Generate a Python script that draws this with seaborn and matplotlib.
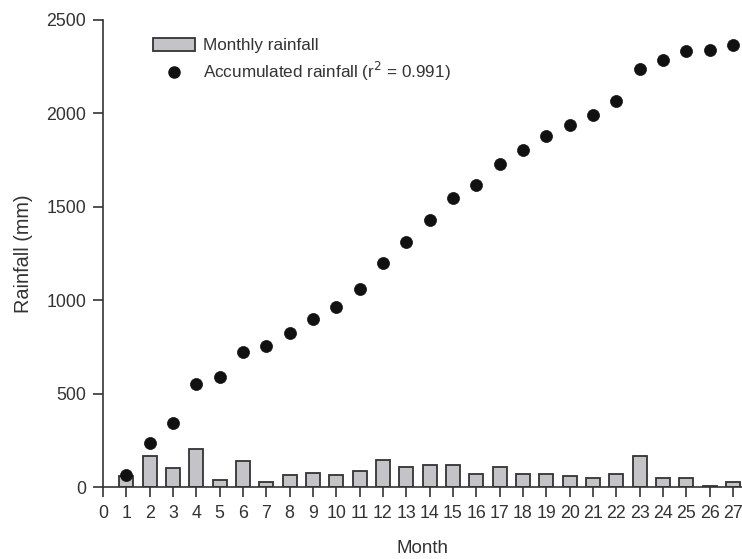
import numpy as np
import pandas as pd
import matplotlib
matplotlib.use("Agg")
import matplotlib.pyplot as plt
import seaborn as sns
from matplotlib.patches import Patch
from matplotlib.lines import Line2D

months = list(range(1, 28))
monthly_rainfall = [57, 168, 102, 205, 37, 139, 28, 64, 73, 64, 87, 146, 109,
                    116, 116, 71, 109, 71, 71, 57, 48, 71, 168, 48, 48, 5, 28]
accumulated_rainfall = [64, 237, 343, 550, 587, 723, 756, 826, 899, 965, 1058,
                        1201, 1313, 1429, 1545, 1617, 1727, 1804, 1879, 1939,
                        1991, 2066, 2236, 2284, 2336, 2339, 2368]
x_ticks = list(range(0, 28))
y_ticks = [0, 500, 1000, 1500, 2000, 2500]

df = pd.DataFrame({"Month": months, "Monthly": monthly_rainfall,
                   "Accumulated": accumulated_rainfall})

sns.set_theme(style="ticks")
plt.rcParams['font.family'] = ['Liberation Sans', 'DejaVu Sans']
txt = "#333333"

fig = plt.figure(figsize=(7.42, 5.59), dpi=100)
ax = fig.add_axes([103/742, 72/559, 639/742, 467/559])

sns.barplot(data=df, x="Month", y="Monthly", native_scale=True, width=0.6,
            color="#c4c4c8", edgecolor="#333333", linewidth=1.3,
            saturation=1, ax=ax, zorder=2)
sns.scatterplot(data=df, x="Month", y="Accumulated", color="#111111",
                s=75, marker="o", edgecolor="#111111", linewidth=0.5,
                ax=ax, zorder=3)

ax.set_xlim(0, 27.39)
ax.set_ylim(0, 2500)
ax.set_xticks(x_ticks)
ax.set_xticklabels([str(t) for t in x_ticks])
ax.set_yticks(y_ticks)
ax.set_yticklabels([str(t) for t in y_ticks])
ax.tick_params(axis='both', direction='out', length=7, width=1.2,
               colors="#333333", labelcolor=txt, labelsize=12.8)
ax.tick_params(axis='y', pad=5)
ax.tick_params(axis='x', pad=6)
ax.set_xlabel("Month", fontsize=13.5, color=txt, labelpad=13)
ax.set_ylabel("Rainfall (mm)", fontsize=14.3, color=txt, labelpad=10)
for s in ["top", "right"]:
    ax.spines[s].set_visible(False)
for s in ["left", "bottom"]:
    ax.spines[s].set_color("#333333")
    ax.spines[s].set_linewidth(1.2)

handles = [Patch(facecolor="#c4c4c8", edgecolor="#333333", linewidth=1.3),
           Line2D([], [], marker="o", linestyle="", color="#111111",
                  markersize=8.0)]
labels = ["Monthly rainfall", r"Accumulated rainfall (r$^2$ = 0.991)"]
leg = ax.legend(handles, labels, loc="upper left", frameon=False,
                bbox_to_anchor=(50/639, 1 - 18/467), fontsize=12.3,
                handlelength=2.45, handleheight=0.75, handletextpad=0.45,
                labelspacing=0.4, borderaxespad=0, borderpad=0)
for t in leg.get_texts():
    t.set_color(txt)

fig.savefig("out.png", dpi=100)
